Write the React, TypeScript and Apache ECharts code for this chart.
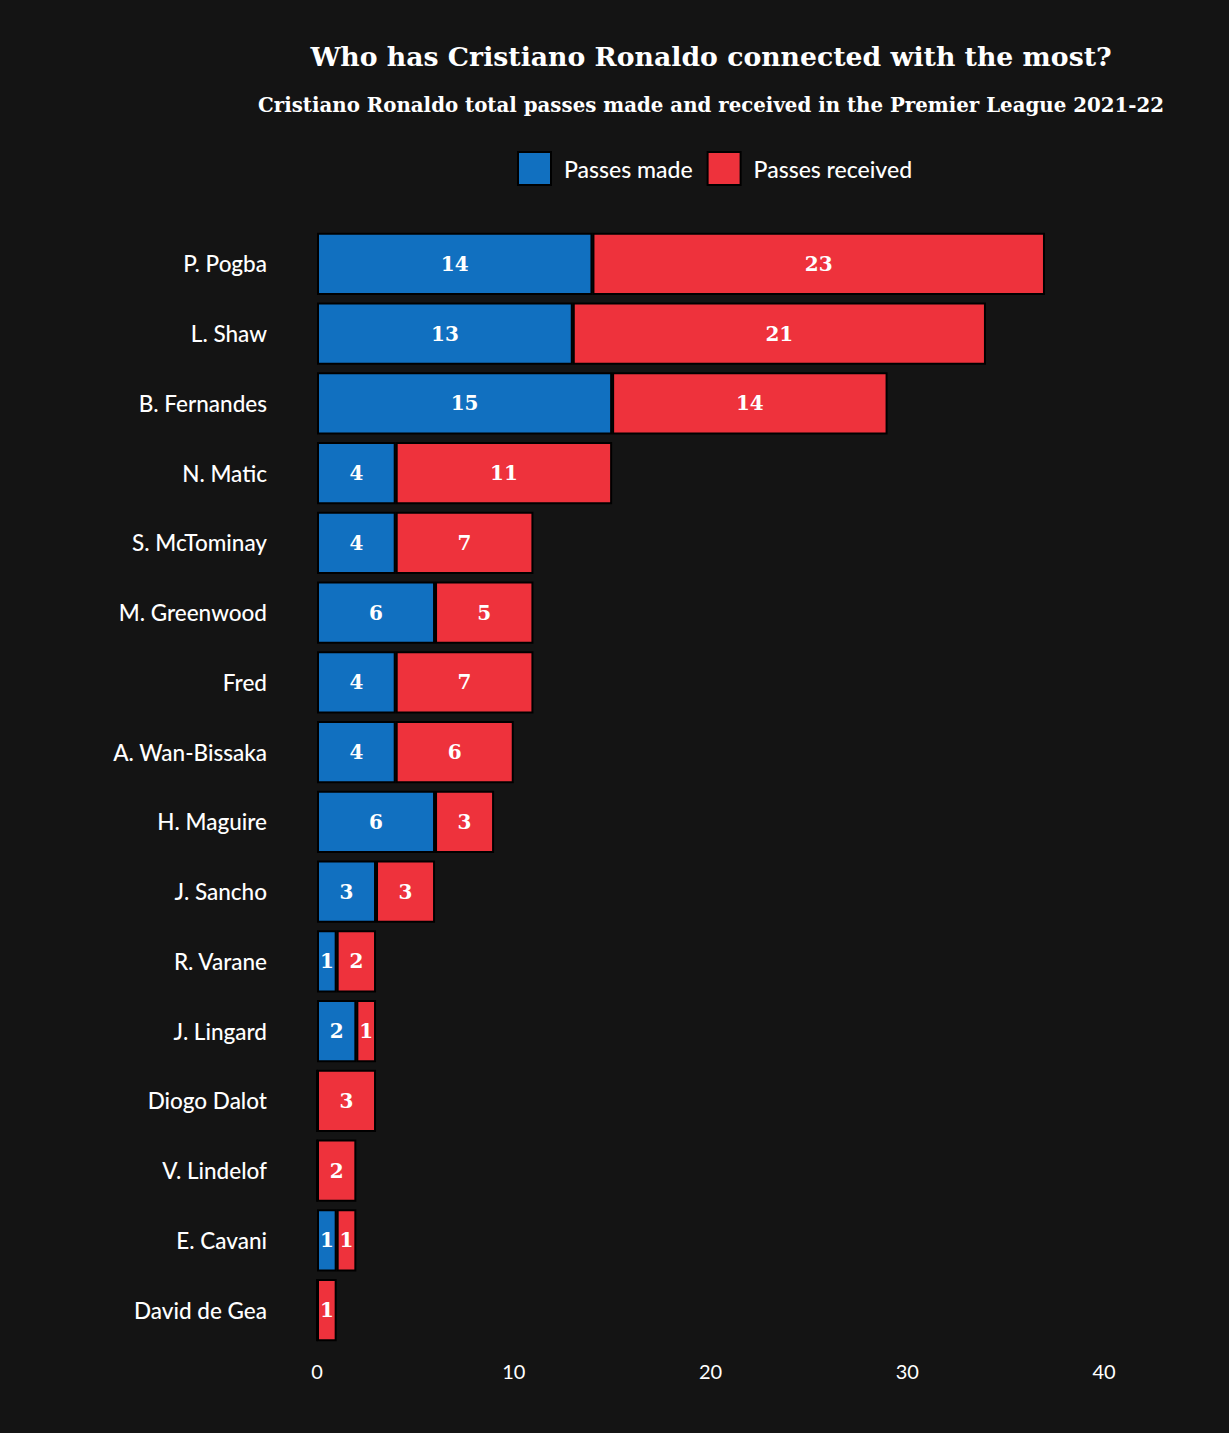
import React, { useEffect, useRef } from "react";
import * as echarts from "echarts";

const players = [
  "P. Pogba", "L. Shaw", "B. Fernandes", "N. Matic", "S. McTominay", "M. Greenwood",
  "Fred", "A. Wan-Bissaka", "H. Maguire", "J. Sancho", "R. Varane", "J. Lingard",
  "Diogo Dalot", "V. Lindelof", "E. Cavani", "David de Gea",
];
const passesMade = [14, 13, 15, 4, 4, 6, 4, 4, 6, 3, 1, 2, 0, 0, 1, 0];
const passesReceived = [23, 21, 14, 11, 7, 5, 7, 6, 3, 3, 2, 1, 3, 2, 1, 1];
const xTicks = [0, 10, 20, 30, 40];

const BG = "#141414";
const BLUE = "#1170c0";
const RED = "#ee323c";
const SLAB = "'DejaVu Serif', serif";
const SANS = "Lato, 'Open Sans', sans-serif";

export default function App() {
  const ref = useRef<HTMLDivElement>(null);
  useEffect(() => {
    document.body.style.margin = "0";
    document.body.style.background = BG;
    const chart = echarts.init(ref.current!, undefined, { renderer: "svg" });
    const label = {
      show: true,
      position: "inside",
      color: "#ffffff",
      fontFamily: SLAB,
      fontWeight: "bold",
      fontSize: 20,
      formatter: (p: any) => (p.value ? String(p.value) : ""),
    };
    chart.setOption({
      animation: false,
      backgroundColor: BG,
      title: [
        {
          text: "Who has Cristiano Ronaldo connected with the most?",
          left: 706,
          top: 38,
          textAlign: "center",
          textStyle: { color: "#fff", fontFamily: SLAB, fontWeight: "bold", fontSize: 26.7 },
        },
        {
          text: "Cristiano Ronaldo total passes made and received in the Premier League 2021-22",
          left: 706,
          top: 90,
          textAlign: "center",
          textStyle: { color: "#fff", fontFamily: SLAB, fontWeight: "bold", fontSize: 19.8 },
        },
      ],
      legend: {
        top: 151,
        left: 517,
        padding: 0,
        itemWidth: 33,
        itemHeight: 33,
        itemGap: 14,
        icon: "rect",
        itemStyle: { borderColor: "#000", borderWidth: 2 },
        textStyle: {
          color: "#fff",
          fontFamily: SANS,
          fontSize: 23,
          fontWeight: 500,
          padding: [0, 0, 0, 8],
        },
        data: ["Passes made", "Passes received"],
      },
      grid: { left: 317, right: 125, top: 229, bottom: 88 },
      xAxis: {
        type: "value",
        min: 0,
        max: 40,
        interval: 10,
        splitLine: { show: false },
        axisLine: { show: false },
        axisTick: { show: false },
        axisLabel: {
          color: "#fff",
          fontFamily: SANS,
          fontSize: 20,
          margin: 16,
          customValues: xTicks,
        },
      },
      yAxis: {
        type: "category",
        inverse: true,
        data: players,
        axisLine: { show: false },
        axisTick: { show: false },
        axisLabel: { color: "#fff", fontFamily: SANS, fontSize: 22.5, fontWeight: 500, margin: 50 },
      },
      series: [
        {
          name: "Passes made",
          type: "bar",
          stack: "total",
          data: passesMade,
          barCategoryGap: "11%",
          itemStyle: { color: BLUE, borderColor: "#000", borderWidth: 2 },
          label,
        },
        {
          name: "Passes received",
          type: "bar",
          stack: "total",
          data: passesReceived,
          barCategoryGap: "11%",
          itemStyle: { color: RED, borderColor: "#000", borderWidth: 2 },
          label,
        },
      ],
    });
    return () => chart.dispose();
  }, []);
  return <div ref={ref} style={{ width: 1229, height: 1433 }} />;
}
